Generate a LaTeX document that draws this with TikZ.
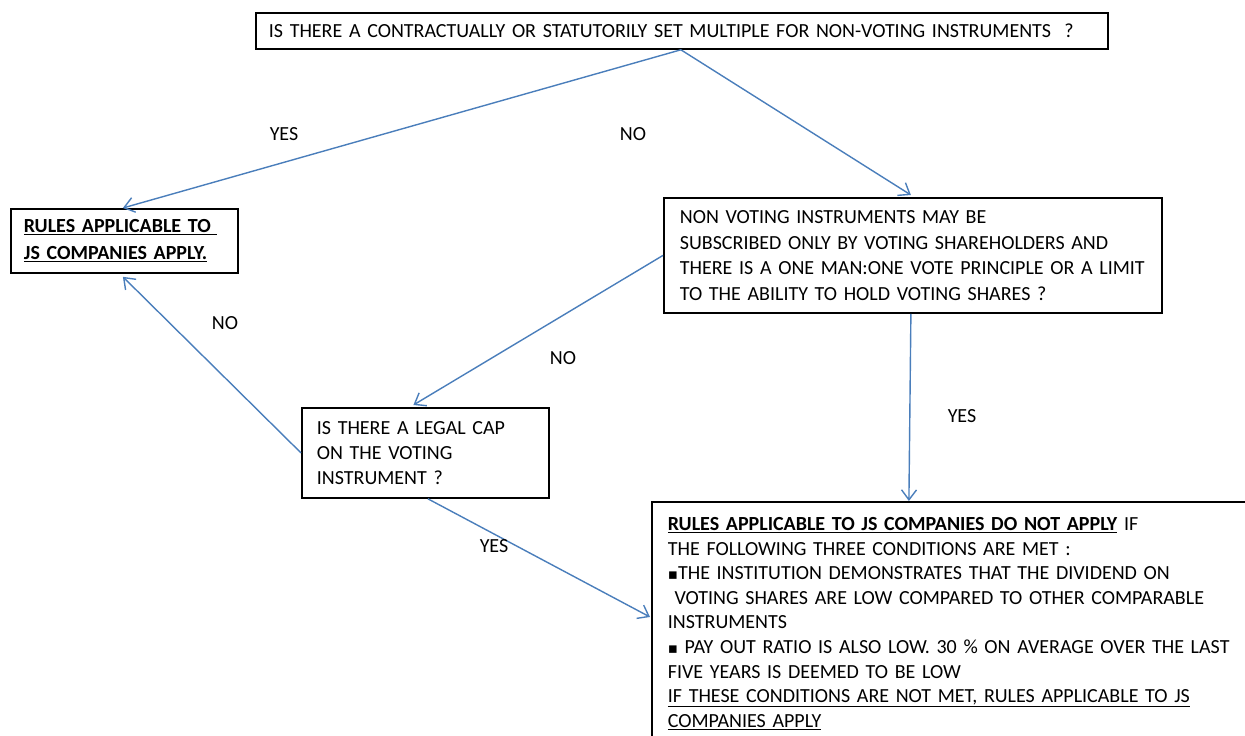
\documentclass[tikz,border=0pt]{standalone}
\usepackage{fontspec}
\setmainfont{Carlito}
\newfontfamily\symfont{DejaVu Sans}
\usetikzlibrary{arrows.meta}
\definecolor{conn}{RGB}{74,126,187}
\newcommand{\sqb}{{\symfont\scalebox{0.75}{▪}}}
\tikzset{
  box/.style={draw=black, line width=1.8pt, anchor=north west, align=left,
    inner xsep=0pt, inner ysep=0pt, font=\fontsize{20}{24.6}\selectfont},
  conn/.style={draw=conn, line width=1.4pt, -{Straight Barb[length=10pt,width=15pt,line width=1.4pt]}},
  lbl/.style={font=\fontsize{20}{22}\selectfont, inner sep=0pt}
}
\begin{document}
\begin{tikzpicture}[x=1pt,y=-1pt]
\useasboundingbox (0,0) rectangle (1245,736);
\begin{scope}
\clip (0,0) rectangle (1245,736);
% top box
\node[box, minimum width=852pt, minimum height=36pt, text width=852pt] (top) at (255,12) {\hspace{13pt}IS THERE A CONTRACTUALLY OR STATUTORILY SET MULTIPLE FOR NON-VOTING INSTRUMENTS\ \ ?};
% rules apply box
\node[box, minimum width=227pt, minimum height=64pt, text width=227pt, font=\bfseries\fontsize{20}{27}\selectfont] (apply) at (10,208) {\hspace{13pt}\underline{RULES APPLICABLE TO\ }\\\hspace{13pt}\underline{JS COMPANIES APPLY.}};
% non voting box
\node[box, minimum width=498pt, minimum height=115pt, text width=498pt, font=\fontsize{20}{25.5}\selectfont] (nonvote) at (663,197) {\hspace{16pt}NON VOTING INSTRUMENTS MAY BE\\\hspace{16pt}SUBSCRIBED ONLY BY VOTING SHAREHOLDERS AND\\\hspace{16pt}THERE IS A ONE MAN:ONE VOTE PRINCIPLE OR A LIMIT\\\hspace{16pt}TO THE ABILITY TO HOLD VOTING SHARES ?};
% legal cap box
\node[box, minimum width=247pt, minimum height=90pt, text width=247pt, font=\fontsize{20}{25}\selectfont] (cap) at (301,407) {\hspace{15pt}IS THERE A LEGAL CAP\\\hspace{15pt}ON THE VOTING\\\hspace{15pt}INSTRUMENT ?};
% bottom box
\node[box, minimum width=640pt, text width=640pt, inner ysep=10pt, minimum height=260pt] (notapply) at (651,501) {%
\vspace{-4pt}\\[-24.6pt]
\hspace{16pt}\textbf{\underline{RULES APPLICABLE TO JS COMPANIES DO NOT APPLY}} IF\\
\hspace{16pt}THE FOLLOWING THREE CONDITIONS ARE MET :\\
\hspace{16pt}\sqb THE INSTITUTION DEMONSTRATES THAT THE DIVIDEND ON\\
\hspace{16pt}\ VOTING SHARES ARE LOW COMPARED TO OTHER COMPARABLE\\
\hspace{16pt}INSTRUMENTS\\
\hspace{16pt}\sqb\ PAY OUT RATIO IS ALSO LOW. 30 \% ON AVERAGE OVER THE LAST\\
\hspace{16pt}FIVE YEARS IS DEEMED TO BE LOW\\
\hspace{16pt}\underline{IF THESE CONDITIONS ARE NOT MET, RULES APPLICABLE TO JS}\\
\hspace{16pt}\underline{COMPANIES APPLY}\\[30pt]};
\end{scope}
% connectors
\draw[conn] ([xshift=-1pt]top.south) -- ([xshift=-1.5pt]apply.north);
\draw[conn] ([xshift=-1pt]top.south) -- ([xshift=-2pt,yshift=2pt]nonvote.north);
\draw[conn] (nonvote.west) -- ([xshift=-12pt,yshift=2pt]cap.north);
\draw[conn] ([xshift=-2pt]nonvote.south) -- ([xshift=-4pt]nonvote.south |- notapply.north);
\draw[conn] (cap.west) -- ([xshift=-1.5pt,yshift=-3pt]apply.south);
\draw[conn] ([xshift=2.5pt]cap.south) -- ([xshift=-1pt,yshift=-116pt]notapply.north west);
% labels
\node[lbl] (l1) at (284,134) {YES};
\node[lbl] (l2) at (633,134) {NO};
\node[lbl] (l3) at (563,358) {NO};
\node[lbl] (l4) at (962,416) {YES};
\node[lbl] (l5) at (225,323) {NO};
\node[lbl] (l6) at (494,546) {YES};
\end{tikzpicture}
\end{document}
